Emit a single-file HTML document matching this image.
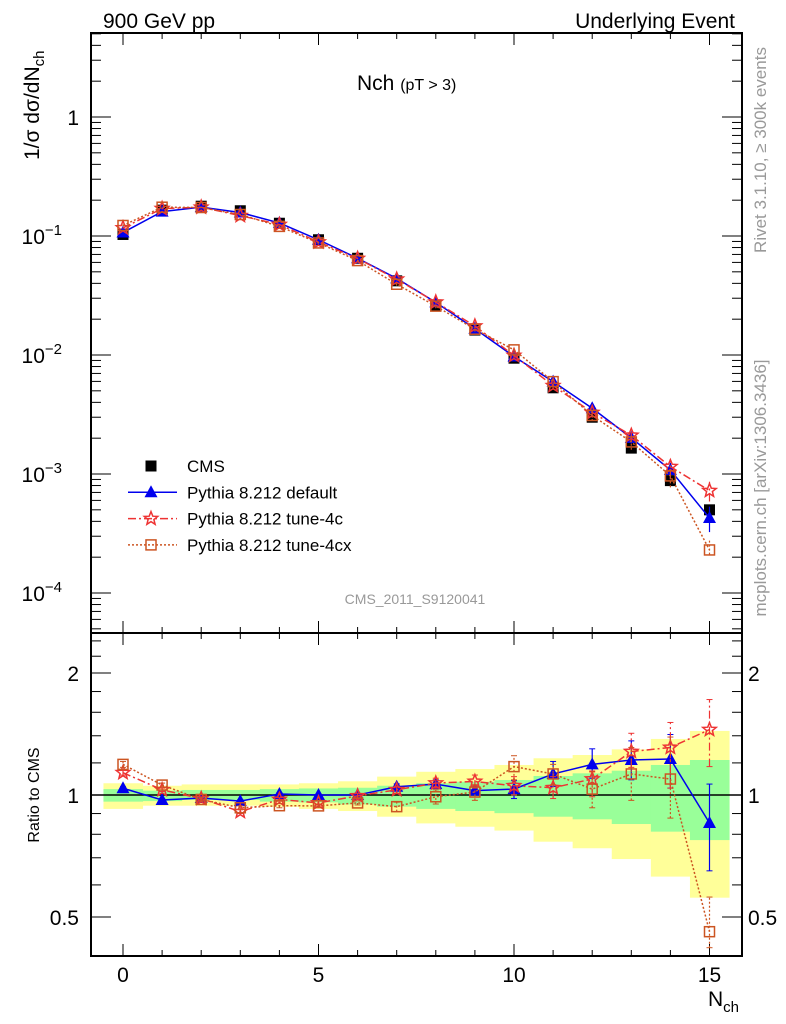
<!DOCTYPE html>
<html><head><meta charset="utf-8"><style>
html,body{margin:0;padding:0;background:#fff}
svg{display:block;font-family:"Liberation Sans",Arial,sans-serif}
</style></head><body>
<svg id="chart" width="786" height="1024" viewBox="0 0 786 1024" xmlns="http://www.w3.org/2000/svg">
<text x="103" y="28" font-size="21">900 GeV pp</text>
<text x="735" y="28" font-size="21" text-anchor="end">Underlying Event</text>
<text x="357" y="90" font-size="21">Nch <tspan font-size="16">(pT &gt;  3)</tspan></text>
<text transform="translate(39,160) rotate(-90)" font-size="21">1/σ dσ/dN<tspan font-size="15" dy="5">ch</tspan></text>
<text transform="translate(39,795) rotate(-90)" font-size="16" text-anchor="middle">Ratio to CMS</text>
<text x="708" y="1006" font-size="21">N<tspan font-size="15" dy="6">ch</tspan></text>
<text transform="translate(766,150) rotate(-90)" font-size="17" fill="#999" text-anchor="middle">Rivet 3.1.10, ≥ 300k events</text>
<text transform="translate(766,488) rotate(-90)" font-size="17" fill="#999" text-anchor="middle">mcplots.cern.ch [arXiv:1306.3436]</text>
<text x="415" y="604" font-size="14" fill="#999" text-anchor="middle">CMS_2011_S9120041</text>
<g id="g"></g>
</svg>
<script>
const nch=[0,1,2,3,4,5,6,7,8,9,10,11,12,13,14,15];
const cms=[0.103,0.165,0.178,0.163,0.128,0.093,0.065,0.042,0.026,0.0162,0.0094,0.0053,0.0030,0.00165,0.00088,0.00050];
const rDef=[1.039,0.972,0.983,0.966,1.006,1.0,1.0,1.048,1.064,1.025,1.034,1.127,1.19,1.22,1.227,0.853];
const rDefLo=[1.03,0.965,0.975,0.958,0.998,0.992,0.99,1.03,1.04,1.0,0.98,1.05,1.10,1.09,1.04,0.65];
const rDefHi=[1.048,0.98,0.99,0.974,1.014,1.008,1.01,1.065,1.09,1.05,1.085,1.21,1.30,1.36,1.41,1.064];
const r4c=[1.135,1.03,0.98,0.91,0.975,0.956,0.995,1.03,1.07,1.08,1.054,1.042,1.095,1.28,1.31,1.45];
const r4cLo=[1.12,1.02,0.97,0.90,0.965,0.945,0.98,1.01,1.04,1.04,1.0,0.98,0.99,1.17,1.04,1.175];
const r4cHi=[1.15,1.04,0.99,0.92,0.985,0.967,1.01,1.05,1.10,1.12,1.11,1.11,1.146,1.42,1.51,1.72];
const r4cx=[1.19,1.058,0.975,0.93,0.941,0.94,0.956,0.936,0.99,1.017,1.175,1.127,1.034,1.127,1.095,0.46];
const r4cxLo=[1.17,1.045,0.965,0.92,0.93,0.93,0.945,0.91,0.95,0.97,1.09,1.06,0.93,0.97,0.877,0.42];
const r4cxHi=[1.21,1.07,0.985,0.94,0.952,0.95,0.967,0.96,1.03,1.06,1.25,1.19,1.14,1.31,1.39,0.56];
const yelHi=[1.069,1.054,1.062,1.062,1.062,1.069,1.081,1.11,1.141,1.159,1.186,1.232,1.255,1.296,1.375,1.439];
const yelLo=[0.924,0.941,0.941,0.941,0.935,0.924,0.913,0.884,0.851,0.835,0.817,0.767,0.739,0.695,0.629,0.558];
const grnHi=[1.034,1.025,1.029,1.029,1.034,1.038,1.042,1.054,1.069,1.078,1.089,1.114,1.131,1.148,1.186,1.22];
const grnLo=[0.963,0.966,0.972,0.972,0.963,0.959,0.948,0.936,0.924,0.913,0.902,0.884,0.871,0.848,0.812,0.774];
const yMainTicks=[1,0.1,0.01,0.001,0.0001];
const yMainLabels=["1","10","10","10","10"];
const yMainExp=["","−1","−2","−3","−4"];
const xTicks=[0,5,10,15];
const rTicks=[0.5,1,2];

const NS="http://www.w3.org/2000/svg";
const g=document.getElementById('g');
const L=91,R=742,T=33,M=633,B=956;
const X=v=>123+39.1*v;
const Y=v=>117-119*Math.log10(v);
const RY=v=>795-405.3*Math.log10(v);
function el(tag,a,p){const e=document.createElementNS(NS,tag);for(const k in a)e.setAttribute(k,a[k]);(p||g).appendChild(e);return e;}

for(let i=0;i<nch.length;i++){
 const b=el('rect',{x:X(nch[i]-0.5),y:RY(yelHi[i]),width:39.6,height:RY(yelLo[i])-RY(yelHi[i]),fill:'#ffff99'});
 
 
}
for(let i=0;i<nch.length;i++){
 const b=el('rect',{x:X(nch[i]-0.5),y:RY(grnHi[i]),width:39.6,height:RY(grnLo[i])-RY(grnHi[i]),fill:'#99ff99'});
 
 
}
const one=el('line',{x1:L,x2:R,y1:RY(1),y2:RY(1),stroke:'#000','stroke-width':1.5});



for(const [t,b,nm] of [[T,M,'main-frame'],[M,B,'ratio-frame']]){
 const f=el('rect',{x:L,y:t,width:R-L,height:b-t,fill:'none',stroke:'#000','stroke-width':2});
 
 
}
for(const [t,b] of [[T,M],[M,B]]){
 for(let v=-0.5;v<=15.5;v+=0.5){
  const isMaj=xTicks.includes(v), isInt=Number.isInteger(v);
  const len=isMaj?12:(isInt?6:4);
  if(!isInt && !isMaj) continue;
  el('line',{x1:X(v),x2:X(v),y1:b,y2:b-len,stroke:'#000','stroke-width':1});
  el('line',{x1:X(v),x2:X(v),y1:t,y2:t+len,stroke:'#000','stroke-width':1});
 }
}
for(const v of xTicks){
 const t=el('text',{x:X(v),y:982,'font-size':21,'text-anchor':'middle'});t.textContent=v;
 
 
}
for(let d=-5;d<=0;d++){
 for(let m=1;m<=9;m++){
  const v=m*Math.pow(10,d),y=Y(v);
  if(y<T||y>M)continue;
  const len=m===1?20:10;
  el('line',{x1:L,x2:L+len,y1:y,y2:y,stroke:'#000'});
  el('line',{x1:R,x2:R-len,y1:y,y2:y,stroke:'#000'});
 }
}
yMainTicks.forEach((v,i)=>{
 const t=el('text',{x:yMainExp[i]?62:79,y:Y(v)+8,'font-size':21,'text-anchor':'end'});
 t.textContent=yMainLabels[i];
 
 
 if(yMainExp[i]){const s=el('tspan',{dy:-9,'font-size':15},t);s.textContent=yMainExp[i];}
});
[0.4,0.5,0.6,0.7,0.8,0.9,1,1.2,1.4,1.6,1.8,2,2.2,2.4].forEach(v=>{
 const y=RY(v),maj=rTicks.includes(v),len=maj?20:10;
 el('line',{x1:L,x2:L+len,y1:y,y2:y,stroke:'#000'});
 el('line',{x1:R,x2:R-len,y1:y,y2:y,stroke:'#000'});
});
rTicks.forEach(v=>{
 for(const [x,a] of [[79,'end'],[748,'start']]){
  const t=el('text',{x:x,y:RY(v)+8,'font-size':21,'text-anchor':a});t.textContent=v;
  
  
 }
});

function marker(kind,x,y,col,name){
 let e;
 if(kind==='sq') e=el('rect',{x:x-5.5,y:y-5.5,width:11,height:11,fill:'#000'});
 else if(kind==='tri') e=el('path',{d:`M${x} ${y-7}L${x+6.5} ${y+5}L${x-6.5} ${y+5}Z`,fill:col});
 else if(kind==='star'){let d='';for(let k=0;k<10;k++){const r=k%2?3:7,a=-Math.PI/2+k*Math.PI/5;d+=(k?'L':'M')+(x+r*Math.cos(a)).toFixed(1)+' '+(y+r*Math.sin(a)).toFixed(1);}
  e=el('path',{d:d+'Z',fill:'none',stroke:col,'stroke-width':1.5});}
 else e=el('rect',{x:x-5,y:y-5,width:10,height:10,fill:'none',stroke:col,'stroke-width':1.5});
 
 
}
const series=[
 {r:rDef,lo:rDefLo,hi:rDefHi,col:'#0000ee',dash:'',k:'tri',n:'default'},
 {r:r4c,lo:r4cLo,hi:r4cHi,col:'#ee3333',dash:'8 3 2 3',k:'star',n:'tune-4c'},
 {r:r4cx,lo:r4cxLo,hi:r4cxHi,col:'#cc5522',dash:'2 2',k:'box',n:'tune-4cx'}];
nch.forEach((v,i)=>marker('sq',X(v),Y(cms[i]),'#000','cms-point'));
series.forEach(s=>{
 const pm=nch.map((v,i)=>X(v)+','+Y(cms[i]*s.r[i])).join(' ');
 const l1=el('polyline',{points:pm,fill:'none',stroke:s.col,'stroke-width':1.5,'stroke-dasharray':s.dash});
 
 
 const pr=nch.map((v,i)=>X(v)+','+RY(s.r[i])).join(' ');
 const l2=el('polyline',{points:pr,fill:'none',stroke:s.col,'stroke-width':1.5,'stroke-dasharray':s.dash});
 
 
 nch.forEach((v,i)=>{
  const x=X(v);
  el('line',{x1:x,x2:x,y1:RY(s.lo[i]),y2:RY(s.hi[i]),stroke:s.col,'stroke-width':1.2,'stroke-dasharray':s.dash});
  el('line',{x1:x-3,x2:x+3,y1:RY(s.lo[i]),y2:RY(s.lo[i]),stroke:s.col});
  el('line',{x1:x-3,x2:x+3,y1:RY(s.hi[i]),y2:RY(s.hi[i]),stroke:s.col});
  el('line',{x1:x,x2:x,y1:Y(cms[i]*s.lo[i]),y2:Y(cms[i]*s.hi[i]),stroke:s.col,'stroke-width':1.2,'stroke-dasharray':s.dash});
  marker(s.k,x,Y(cms[i]*s.r[i]),s.col,'point-'+s.n);
  marker(s.k,x,RY(s.r[i]),s.col,'ratio-point-'+s.n);
 });
});
const leg=[['CMS','sq','#000',''],['Pythia 8.212 default','tri','#0000ee',''],['Pythia 8.212 tune-4c','star','#ee3333','8 3 2 3'],['Pythia 8.212 tune-4cx','box','#cc5522','2 2']];
leg.forEach((e,i)=>{
 const y=466+26.3*i;
 if(i>0) el('line',{x1:128,x2:177,y1:y,y2:y,stroke:e[2],'stroke-width':1.5,'stroke-dasharray':e[3]});
 marker(e[1],151,y,e[2],'legend-marker');
 const t=el('text',{x:187,y:y+6,'font-size':17});t.textContent=e[0];
 
 
});
</script>
</body></html>
